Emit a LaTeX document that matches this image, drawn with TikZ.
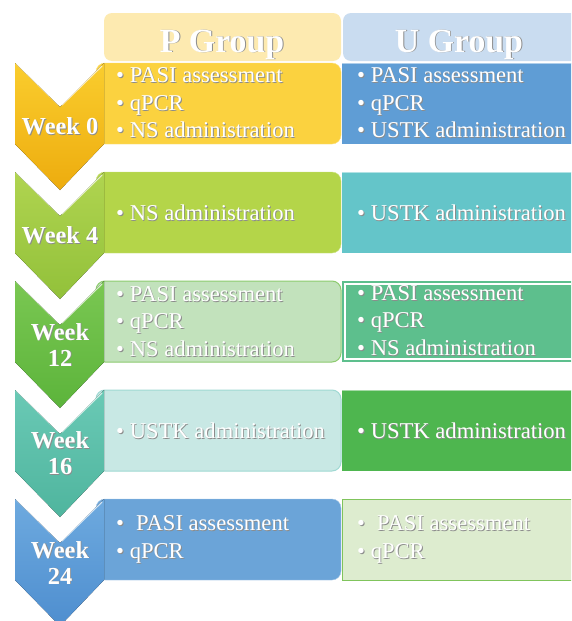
\documentclass[tikz,border=0pt]{standalone}
\usepackage{fontspec}
\setmainfont{Liberation Serif}
\newcommand{\shd}[1]{\leavevmode\rlap{\kern0.9pt\raisebox{-0.9pt}{\textcolor{black!45}{#1}}}#1}
\definecolor{hdrP}{HTML}{FDEAB0}
\definecolor{hdrU}{HTML}{C9DCF0}
\definecolor{cAt}{HTML}{FACD2E}\definecolor{cAb}{HTML}{EDAC0E}
\definecolor{cBt}{HTML}{B0D450}\definecolor{cBb}{HTML}{92C13A}
\definecolor{cCt}{HTML}{7AC752}\definecolor{cCb}{HTML}{5CB43B}
\definecolor{cDt}{HTML}{6AC9B5}\definecolor{cDb}{HTML}{4FB59E}
\definecolor{cEt}{HTML}{6EAADF}\definecolor{cEb}{HTML}{4E8ECF}
\definecolor{pA}{HTML}{FBD23F}\definecolor{uA}{HTML}{5F9DD5}
\definecolor{pB}{HTML}{B4D549}\definecolor{uB}{HTML}{64C5C9}
\definecolor{pC}{HTML}{C2E2BC}\definecolor{uC}{HTML}{5DBF8D}
\definecolor{pD}{HTML}{C8E8E4}\definecolor{uD}{HTML}{4EB64F}
\definecolor{pE}{HTML}{6BA4D8}\definecolor{uE}{HTML}{DDECCF}
\definecolor{bC}{HTML}{8DCB6F}\definecolor{bD}{HTML}{A0D9D3}\definecolor{bE}{HTML}{80C45C}
\tikzset{
  bodytext/.style={text=white, font=\fontsize{22.6}{27.5}\selectfont, align=left, anchor=west, inner sep=0pt},
  weektext/.style={text=white, font=\bfseries\fontsize{24.4}{26}\selectfont, align=center, inner sep=0pt},
  headtext/.style={text=white, font=\bfseries\fontsize{33.8}{36}\selectfont, inner sep=0pt, anchor=base},
  pbox/.style={rounded corners=9pt},
  gloss/.style={white, opacity=0.7, line width=1.2pt, line cap=round}
}
\begin{document}
\begin{tikzpicture}[x=1pt,y=-1pt]
\clip (0,0) rectangle (571,621);
\fill[white] (0,0) rectangle (571,621);
% headers
\fill[hdrP, rounded corners=8pt] (104,13) rectangle (341,61);
\fill[hdrU, rounded corners=8pt] (343,13) rectangle (590,61);
\node[headtext] (hP) at (222,52) {\shd{P Group}};
\node[headtext] (hU) at (459,52) {\shd{U Group}};
% boxes
\filldraw[pbox, fill=pA, draw=pA!70!white] (96,63) rectangle (341,144);
\fill[uA] (342,63) rectangle (590,144);
\draw[white, opacity=0.5] (342,63.5) -- (590,63.5);
\filldraw[pbox, fill=pB, draw=pB!70!white] (96,172) rectangle (341,253);
\fill[uB] (342,172) rectangle (590,253);
\draw[white, opacity=0.5] (342,172.5) -- (590,172.5);
\filldraw[pbox, fill=pC, draw=bC, line width=1pt] (96,281) rectangle (341,362);
\fill[uC] (342,281) rectangle (590,362);
\draw[white, line width=1.2pt] (345,284) rectangle (590,359);
\filldraw[pbox, fill=pD, draw=bD, line width=1pt] (96,390) rectangle (341,471);
\fill[uD] (342,390) rectangle (590,471);
\draw[white, opacity=0.5] (342,390.5) -- (590,390.5);
\filldraw[pbox, fill=pE, draw=pE!60!white] (96,499) rectangle (341,580);
\filldraw[fill=uE, draw=bE, line width=1pt] (342.5,499.5) rectangle (590,580);
% chevrons
\foreach \T/\ct/\cb in {63/cAt/cAb, 172/cBt/cBb, 281/cCt/cCb, 390/cDt/cDb, 499/cEt/cEb} {
  \fill[top color=\ct, bottom color=\cb] (15,\T) -- (60,\T+44) -- (104,\T) -- (104,\T+81) -- (60,\T+127) -- (15,\T+81) -- cycle;
  \draw[gloss] (62,\T+42) -- (102,\T+3);
  \draw[white, opacity=0.3, line width=0.8pt] (16,\T+1) -- (58,\T+42);
}
% week labels
\node[weektext] (w0) at (60,127) {\shd{Week 0}};
\node[weektext] (w4) at (60,236) {\shd{Week 4}};
\node[weektext] (w12) at (60,345) {\shd{Week}\\\shd{12}};
\node[weektext] (w16) at (60,454) {\shd{Week}\\\shd{16}};
\node[weektext] (w24) at (60,563) {\shd{Week}\\\shd{24}};
% texts P
\node[bodytext] (p0) at (116,103.5) {\shd{\textbullet{} PASI assessment}\\\shd{\textbullet{} qPCR}\\\shd{\textbullet{} NS administration}};
\node[bodytext] (p4) at (116,213) {\shd{\textbullet{} NS administration}};
\node[bodytext] (p12) at (116,322) {\shd{\textbullet{} PASI assessment}\\\shd{\textbullet{} qPCR}\\\shd{\textbullet{} NS administration}};
\node[bodytext] (p16) at (116,431) {\shd{\textbullet{} USTK administration}};
\node[bodytext] (p24) at (116,540) {\shd{\textbullet{}\hspace{12pt}PASI assessment}\\\shd{\textbullet{} qPCR}};
% texts U
\node[bodytext] (u0) at (357,103.5) {\shd{\textbullet{} PASI assessment}\\\shd{\textbullet{} qPCR}\\\shd{\textbullet{} USTK administration}};
\node[bodytext] (u4) at (357,213) {\shd{\textbullet{} USTK administration}};
\node[bodytext] (u12) at (357,321) {\shd{\textbullet{} PASI assessment}\\\shd{\textbullet{} qPCR}\\\shd{\textbullet{} NS administration}};
\node[bodytext] (u16) at (357,431) {\shd{\textbullet{} USTK administration}};
\node[bodytext] (u24) at (357,540) {\shd{\textbullet{}\hspace{12pt}PASI assessment}\\\shd{\textbullet{} qPCR}};
\end{tikzpicture}
\end{document}
